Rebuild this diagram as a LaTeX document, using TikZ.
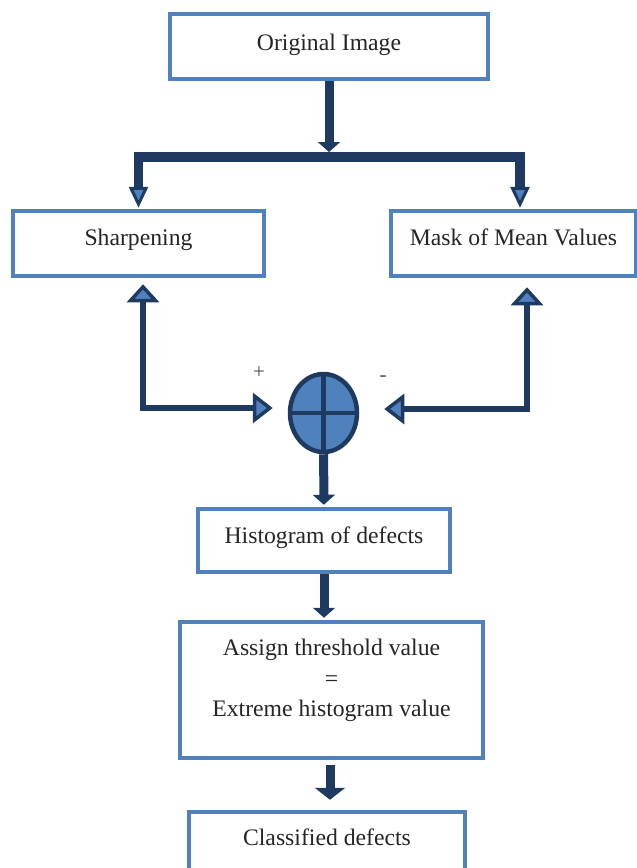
\documentclass[tikz,border=0pt]{standalone}
\usepackage{fontspec}
\setmainfont{Liberation Serif}
\usetikzlibrary{arrows.meta,shapes.geometric,backgrounds}
\definecolor{boxblue}{HTML}{4F81BD}
\definecolor{navy}{HTML}{1F3A60}
\begin{document}
\begin{tikzpicture}[x=1pt,y=-1pt,
  boxbase/.style={draw=boxblue, line width=4.5pt, fill=white, inner sep=0pt,
    font=\fontsize{23.7}{30.5}\selectfont, text=black!85},
  box/.style={boxbase, text height=16pt},
  mainarrow/.style={draw=navy, line width=9pt, -{Triangle[length=10pt,width=22pt]}},
  branch/.style={draw=navy, line width=9.5pt,
    -{Triangle[length=21pt,width=19pt,fill=boxblue,line width=3pt]}},
  sidearrow/.style={draw=navy, line width=5.5pt,
    {Triangle[length=18pt,width=32pt,fill=boxblue,line width=3.5pt]}-{Triangle[length=20pt,width=30pt,fill=boxblue,line width=3.5pt]}},
  sumnode/.style={ellipse, draw=navy, line width=4.5pt, fill=boxblue,
    minimum width=67pt, minimum height=78pt, inner sep=0pt},
  signlabel/.style={font=\fontsize{21}{21}\selectfont, text=black!70, inner sep=0pt}
]
\useasboundingbox (0,0) rectangle (637,868);
\clip (0,0) rectangle (637,868);

\node[box, minimum width=318pt, minimum height=65pt, text depth=9pt] (orig) at (329,46.5) {Original Image};
\node[box, minimum width=251pt, minimum height=65pt, text depth=13pt] (sharp) at (138.5,243.5) {Sharpening};
\node[box, minimum width=245pt, minimum height=65pt, text depth=13pt] (mask) at (513.5,243.5) {Mask of Mean Values};
\node[sumnode] (sum) at (323.5,413) {};
\draw[navy, line width=4.5pt] (sum.north) -- (sum.south) (sum.west) -- (sum.east);
\node[box, minimum width=252pt, minimum height=63pt, text depth=11pt] (hist) at (324,540.5) {Histogram of defects};
\node[boxbase, align=center, minimum width=303pt, minimum height=136pt, text depth=24pt] (assign) at (331.5,690) {Assign threshold value\\=\\Extreme histogram value};
\node[box, minimum width=276pt, minimum height=66pt, text depth=16pt] (class) at (327,845) {Classified defects};

\node[signlabel] (plus) at (259,373) {+};
\node[signlabel] (minus) at (383,379) {-};

\coordinate (split) at (329,157);

\begin{scope}[on background layer]
  \draw[mainarrow, shorten >=5pt] (orig) -- (split);
  \draw[branch, shorten >=1pt] (split) -| (sharp);
  \draw[branch, shorten >=1pt] (split) -| ([xshift=6.5pt]mask.north);
  \draw[sidearrow, shorten <=6pt, shorten >=15pt] ([xshift=4.5pt]sharp.south) |- ([yshift=5pt]sum.west);
  \draw[sidearrow, shorten <=9pt, shorten >=25pt] ([xshift=13.5pt]mask.south) |- ([yshift=4pt]sum.east);
  \draw[mainarrow, shorten >=2pt] (sum) -- (hist);
  \draw[mainarrow, shorten >=2pt] (hist.south) -- (hist.south |- assign.north);
  \draw[draw=navy, line width=9pt, -{Triangle[length=12pt,width=30pt]}, shorten <=5pt, shorten >=10pt] ([xshift=-1.5pt]assign.south) -- ([xshift=-1.5pt]assign.south |- class.north);
\end{scope}
\end{tikzpicture}
\end{document}
